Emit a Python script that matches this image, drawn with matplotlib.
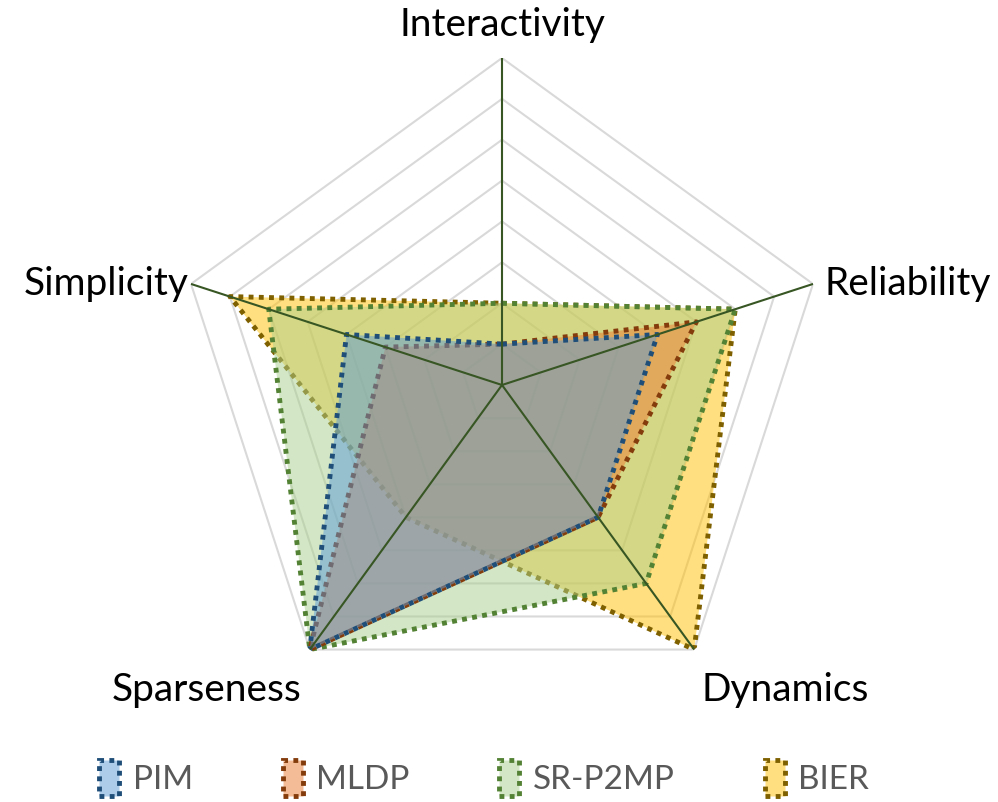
import numpy as np
import matplotlib
matplotlib.use("Agg")
import matplotlib.pyplot as plt
from matplotlib.patches import Patch

axes_labels = ["Interactivity", "Reliability", "Dynamics", "Sparseness", "Simplicity"]
series_names = ["PIM", "MLDP", "SR-P2MP", "BIER"]
pim = [1, 4, 4, 8, 4]
mldp = [1, 5, 4, 8, 3]
sr_p2mp = [2, 6, 6, 8, 6]
bier = [2, 6, 8, 4, 7]
r_max = 8

fill_colors = {"PIM": "#5B9BD5", "MLDP": "#ED7D31", "SR-P2MP": "#A9D18E", "BIER": "#FFC000"}
edge_colors = {"PIM": "#1F4E79", "MLDP": "#843C0C", "SR-P2MP": "#548235", "BIER": "#7F6000"}
values = {"PIM": pim, "MLDP": mldp, "SR-P2MP": sr_p2mp, "BIER": bier}

plt.rcParams["font.family"] = ["Lato", "DejaVu Sans"]

W, H = 998, 802
cx, cy, R = 502, 385, 327
fig = plt.figure(figsize=(W / 100, H / 100), dpi=100)
ax = fig.add_axes([(cx - R) / W, (H - cy - R) / H, 2 * R / W, 2 * R / H], projection="polar")
ax.set_theta_offset(np.pi / 2)
ax.set_theta_direction(-1)
ax.set_ylim(0, r_max)
ax.set_xticks([])
ax.set_yticks([])
ax.grid(False)
ax.spines["polar"].set_visible(False)
ax.patch.set_alpha(0)

n = len(axes_labels)
angles = np.arange(n) * 2 * np.pi / n
closed = np.append(angles, angles[0])

# pentagon grid rings
for r in range(1, r_max + 1):
    ax.plot(closed, [r] * (n + 1), color="#D9D9D9", lw=1.5, zorder=1)

# back to front: BIER at the bottom, PIM on top
dots = (0, (1, 1.1))
for i, name in enumerate(reversed(series_names)):
    v = values[name]
    vc = v + v[:1]
    ax.fill(closed, vc, color=fill_colors[name], alpha=0.5, lw=0, zorder=2 + i)
    ax.plot(closed, vc, color=edge_colors[name], lw=3.5, linestyle=dots,
            dash_capstyle="butt", zorder=2 + i)

# spokes
for a in angles:
    ax.plot([a, a], [0, r_max], color="#375623", lw=1.5, zorder=10)

offsets = [(0, 33, "center"), (12, 0, "left"), (91, -40, "center"),
           (-103, -40, "center"), (-2, 0, "right")]
for a, lab, (dx, dy, ha) in zip(angles, axes_labels, offsets):
    ax.annotate(lab, xy=(a, r_max), xytext=(dx, dy), textcoords="offset pixels",
                ha=ha, va="center", fontsize=28, color="black", annotation_clip=False)

handles = [
    Patch(facecolor=matplotlib.colors.to_rgba(fill_colors[s], 0.5),
          edgecolor=edge_colors[s], lw=3.5, linestyle=dots, label=s)
    for s in series_names
]
leg = fig.legend(handles=handles, loc="center", bbox_to_anchor=(0.485, 0.03), ncol=4,
                 frameon=False, fontsize=24, handlelength=0.6, handleheight=1.3,
                 handletextpad=0.4, columnspacing=2.7)
for t in leg.get_texts():
    t.set_color("#595959")

fig.savefig("out.png", dpi=100)
